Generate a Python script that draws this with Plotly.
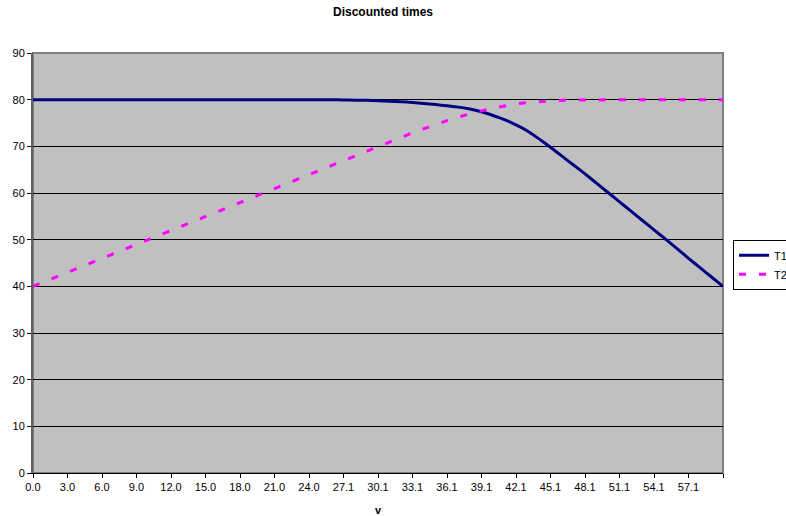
import plotly.graph_objects as go

v_labels = ["0.0", "1.0", "2.0", "3.0", "4.0", "5.0", "6.0", "7.0", "8.0", "9.0",
            "10.0", "11.0", "12.0", "13.0", "14.0", "15.0", "16.0", "17.0", "18.0", "19.0",
            "20.0", "21.0", "22.0", "23.0", "24.0", "25.1", "26.1", "27.1", "28.1", "29.1",
            "30.1", "31.1", "32.1", "33.1", "34.1", "35.1", "36.1", "37.1", "38.1", "39.1",
            "40.1", "41.1", "42.1", "43.1", "44.1", "45.1", "46.1", "47.1", "48.1", "49.1",
            "50.1", "51.1", "52.1", "53.1", "54.1", "55.1", "56.1", "57.1", "58.1", "59.1",
            "60.1"]

T1 = [80, 80, 80, 80, 80, 80, 80, 80, 80, 80,
      80, 80, 80, 80, 80, 80, 80, 80, 80, 80,
      80, 80, 80, 80, 80, 79.99, 79.98, 79.95, 79.9, 79.85,
      79.78, 79.68, 79.55, 79.4, 79.2, 78.95, 78.7, 78.4, 78.0, 77.4,
      76.6, 75.7, 74.6, 73.3, 71.6, 69.8, 67.9, 66.0, 64.1, 62.1,
      60.1, 58.1, 56.1, 54.1, 52.1, 50.1, 48.1, 46.0, 44.0, 42.0,
      40.0]

T2 = [40, 41, 42, 43, 44, 45, 46, 47, 48, 49,
      50, 51, 52, 53, 54, 55, 56, 57, 58, 59,
      60, 61, 62, 63, 64, 65, 66, 67, 68, 69,
      70, 71, 71.95, 72.9, 73.8, 74.7, 75.5, 76.3, 77.0, 77.6,
      78.2, 78.7, 79.1, 79.4, 79.6, 79.75, 79.85, 79.92, 79.96, 80,
      80, 80, 80, 80, 80, 80, 80, 80, 80, 80,
      80]

tick_labels = [lab if i < 60 else "" for i, lab in enumerate(v_labels)][::3]
tick_vals = v_labels[::3]

fig = go.Figure()
fig.add_trace(go.Scatter(x=v_labels, y=T1, mode="lines", name="T1",
                         line=dict(color="#000080", width=3, shape="spline", smoothing=0.4)))
fig.add_trace(go.Scatter(x=v_labels, y=T2, mode="lines", name="T2",
                         line=dict(color="#FF00FF", width=3, dash="7px,13px")))

font = "Liberation Sans, Arial, sans-serif"
L, R, T, B = 33, 723, 53, 473.5
W, H = 786, 516
fig.update_layout(
    width=W, height=H,
    margin=dict(l=L, r=W - R, t=T, b=H - B, autoexpand=False),
    paper_bgcolor="white", plot_bgcolor="#C0C0C0",
    font=dict(family=font, size=11, color="black"),
    title=dict(text="<b>Discounted times</b>", x=383 / W, xanchor="center",
               y=1 - 12 / H, yanchor="middle", font=dict(size=12, family=font)),
    xaxis=dict(type="category", categoryorder="array", categoryarray=v_labels,
               range=[0, 60], tickmode="array", tickvals=tick_vals, ticktext=tick_labels,
               showgrid=False, showline=True, linecolor="black", linewidth=1,
               ticks="outside", ticklen=4, tickcolor="black", automargin=False,
               tickfont=dict(size=11), zeroline=False,
               title=dict(text="<b>v</b>", font=dict(size=11), standoff=14)),
    yaxis=dict(range=[0, 90], dtick=10, tick0=0, showgrid=True, gridcolor="black",
               gridwidth=1, showline=True, linecolor="#606060", linewidth=2,
               ticks="outside", ticklen=4, tickcolor="black", zeroline=False,
               automargin=False, tickfont=dict(size=11)),
    legend=dict(x=(733 - L) / (R - L), xanchor="left",
                y=(B - 240) / (B - T), yanchor="top",
                bgcolor="white", bordercolor="black", borderwidth=1,
                font=dict(size=11), tracegroupgap=0, itemwidth=30),
    shapes=[dict(type="rect", xref="x domain", yref="y domain", x0=0, x1=1, y0=0, y1=1,
                 line=dict(color="#808080", width=2), layer="below")],
)

fig.write_html("out.html", config={"displayModeBar": False},
               post_script="document.body.style.margin='0';")
